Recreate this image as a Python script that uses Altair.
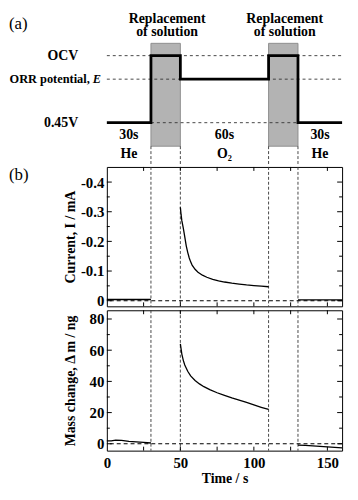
import altair as alt
import pandas as pd

FONT = "Liberation Serif"
W = 238
H_A, H_I, H_M = 154, 141, 142

# ---------------- data ----------------
switch_times = [30, 50, 110, 130]

# (a) schematic potential programme (arbitrary potential units)
level_names = ["OCV", "ORR", "0.45V"]
level_values = [1.0, 0.807, 0.45]
wave_t = [0, 30, 30, 50, 50, 110, 110, 130, 130, 160]
wave_level = ["0.45V", "0.45V", "OCV", "OCV", "ORR", "ORR", "OCV", "OCV", "0.45V", "0.45V"]
dash_level = ["OCV", "ORR", "0.45V"]
dash_start = [0, 0, 30]
dash_end = [160, 160, 130]
box_start = [30, 110]
box_end = [50, 130]
box_low, box_high = 0.257, 1.101
A_DOMAIN = [0.111, 1.360]

phase_x = [15, 80, 145]
phase_dur = ["30s", "60s", "30s"]
phase_gas = ["He", "O\u2082", "He"]
replace_x = [41, 121]
row_repl, row_sol, row_dur, row_gas = 1.303, 1.190, 0.352, 0.190

# (b) current, mA
cur_t_he1 = [0, 30]
cur_he1 = [-0.004, -0.004]
cur_t_o2 = [50, 50.5, 51, 52, 53, 54, 55, 56, 57, 58, 60, 62, 65, 68, 72, 76, 80, 85, 90, 95, 100, 105, 110]
cur_o2 = [-0.315, -0.29, -0.27, -0.245, -0.215, -0.185, -0.163, -0.145, -0.131, -0.120, -0.106, -0.096,
          -0.086, -0.079, -0.072, -0.067, -0.063, -0.059, -0.056, -0.053, -0.051, -0.049, -0.047]
cur_t_he2 = [130, 160]
cur_he2 = [-0.003, -0.003]
cur_major = [-0.4, -0.3, -0.2, -0.1, 0.0]
cur_minor = [-0.35, -0.25, -0.15, -0.05]

# (b) mass change, ng
mass_t_he1 = [0, 3, 6, 10, 15, 20, 25, 30]
mass_he1 = [1.8, 1.9, 2.4, 2.2, 1.6, 1.2, 0.9, 0.5]
mass_t_o2 = [50, 51, 52, 53, 55, 57, 60, 63, 66, 70, 75, 80, 85, 90, 95, 100, 105, 110]
mass_o2 = [64, 57.5, 53.5, 50.5, 46.5, 43.5, 40.6, 38.4, 36.6, 34.7, 32.7, 31, 29.4, 28, 26.5, 24.9, 23.4, 22]
mass_t_he2 = [130, 135, 140, 145, 150, 155, 160]
mass_he2 = [-0.8, -1.0, -1.3, -1.7, -2.0, -2.3, -2.6]
mass_major = [0, 20, 40, 60, 80]
mass_minor = [10, 30, 50, 70]

x_ticks = [25, 50, 75, 100, 125, 150]
x_labels = [0, 50, 100, 150]

# ---------------- helpers ----------------
xs = alt.Scale(domain=[0, 160], nice=False, zero=False)
lvl = dict(zip(level_names, level_values))


def txt(**kw):
    base = dict(font=FONT, fontWeight="bold", fontSize=14, color="black")
    base.update(kw)
    return base


# ---------------- panel (a) ----------------
ya = alt.Scale(domain=A_DOMAIN, nice=False, zero=False)
XA = lambda f: alt.X(f, type="quantitative", scale=xs, axis=None)
YA = lambda f: alt.Y(f, type="quantitative", scale=ya, axis=None)

boxes = pd.DataFrame({"t0": box_start, "t1": box_end, "v0": [box_low] * 2, "v1": [box_high] * 2})
dashes = pd.DataFrame({"t0": dash_start, "t1": dash_end, "v": [lvl[k] for k in dash_level]})
vdash_a = pd.DataFrame({"t": switch_times, "v0": [box_low] * 4, "v1": [A_DOMAIN[0]] * 4})
wave = pd.DataFrame({"i": range(len(wave_t)), "t": wave_t, "v": [lvl[k] for k in wave_level]})
dur_df = pd.DataFrame({"t": phase_x, "v": [row_dur] * 3, "s": phase_dur})
gas_df = pd.DataFrame({"t": phase_x, "v": [row_gas] * 3, "s": phase_gas})
repl_df = pd.DataFrame({"t": replace_x * 2, "v": [row_repl] * 2 + [row_sol] * 2,
                        "s": ["Replacement"] * 2 + ["of solution"] * 2})
left_df = pd.DataFrame({"t": [-19.5, -19.5], "v": [lvl["OCV"], lvl["0.45V"]], "s": ["OCV", "0.45V"]})
orr_df = pd.DataFrame({"t": [-11.6], "v": [lvl["ORR"]], "s": ["ORR potential,"]})
e_df = pd.DataFrame({"t": [-4.03], "v": [lvl["ORR"]], "s": ["E"]})
a_df = pd.DataFrame({"t": [-66.6], "v": [1.262], "s": ["(a)"]})

pa = alt.layer(
    alt.Chart(boxes).mark_rect(fill="#b3b3b3", stroke="#8f8f8f", strokeWidth=1).encode(
        x=XA("t0"), x2="t1", y=YA("v0"), y2="v1"),
    alt.Chart(dashes).mark_rule(color="#333333", strokeWidth=0.9, strokeDash=[3, 3]).encode(
        x=XA("t0"), x2="t1", y=YA("v")),
    alt.Chart(vdash_a).mark_rule(color="#333333", strokeWidth=0.9, strokeDash=[3, 2]).encode(
        x=XA("t"), y=YA("v0"), y2="v1"),
    alt.Chart(wave).mark_line(color="black", strokeWidth=2.8, strokeJoin="miter").encode(
        x=XA("t"), y=YA("v"), order="i:Q"),
    alt.Chart(dur_df).mark_text(**txt(baseline="middle")).encode(x=XA("t"), y=YA("v"), text="s:N"),
    alt.Chart(gas_df).mark_text(**txt(baseline="middle")).encode(x=XA("t"), y=YA("v"), text="s:N"),
    alt.Chart(repl_df).mark_text(**txt(baseline="middle")).encode(x=XA("t"), y=YA("v"), text="s:N"),
    alt.Chart(left_df).mark_text(**txt(baseline="middle", align="right")).encode(
        x=XA("t"), y=YA("v"), text="s:N"),
    alt.Chart(orr_df).mark_text(**txt(baseline="middle", align="right", fontSize=12.5)).encode(
        x=XA("t"), y=YA("v"), text="s:N"),
    alt.Chart(e_df).mark_text(**txt(baseline="middle", align="right", fontSize=12.5, fontStyle="italic")).encode(
        x=XA("t"), y=YA("v"), text="s:N"),
    alt.Chart(a_df).mark_text(font=FONT, fontSize=17, color="black", align="left", baseline="middle").encode(
        x=XA("t"), y=YA("v"), text="s:N"),
).properties(width=W, height=H_A, view=alt.ViewBackground(stroke="transparent"))


# ---------------- generic data panel ----------------
def data_panel(segs, domain, reverse, major, minor, ytitle, label_expr, height, xaxis, extra=None):
    ysc = alt.Scale(domain=domain, nice=False, zero=False, reverse=reverse)
    yax = alt.Axis(values=major, labelExpr=label_expr, ticks=False, domain=False, grid=False,
                   labelPadding=3, minExtent=27, maxExtent=27, title=ytitle, titlePadding=3,
                   labelFlush=False, labelOverlap=False)
    XX = lambda f: alt.X(f, type="quantitative", scale=xs, axis=xaxis)
    YY = lambda f: alt.Y(f, type="quantitative", scale=ysc, axis=yax)

    frames = []
    for k, (tt, vv) in enumerate(segs):
        frames.append(pd.DataFrame({"t": tt, "v": vv, "seg": k}))
    curve = pd.concat(frames, ignore_index=True)

    vd = pd.DataFrame({"t": switch_times})
    zero = pd.DataFrame({"z": [0.0]})
    xt = pd.DataFrame({"t": x_ticks})
    ymaj = pd.DataFrame({"v": major})
    ymin = pd.DataFrame({"v": minor})
    tick = dict(color="black", strokeWidth=1)

    layers = [
        alt.Chart(vd).mark_rule(color="#333333", strokeWidth=0.9, strokeDash=[3, 2]).encode(x=XX("t")),
        alt.Chart(zero).mark_rule(color="black", strokeWidth=1.1, strokeDash=[4, 3]).encode(y=YY("z")),
        alt.Chart(curve).mark_line(color="black", strokeWidth=1.3).encode(
            x=XX("t"), y=YY("v"), detail="seg:N"),
        alt.Chart(xt).mark_rule(**tick).encode(x=XX("t"), y=alt.value(0), y2=alt.value(4)),
        alt.Chart(xt).mark_rule(**tick).encode(x=XX("t"), y=alt.value(height - 4), y2=alt.value(height)),
        alt.Chart(ymaj).mark_rule(**tick).encode(y=YY("v"), x=alt.value(0), x2=alt.value(5)),
        alt.Chart(ymaj).mark_rule(**tick).encode(y=YY("v"), x=alt.value(W - 5), x2=alt.value(W)),
        alt.Chart(ymin).mark_rule(**tick).encode(y=YY("v"), x=alt.value(0), x2=alt.value(3)),
        alt.Chart(ymin).mark_rule(**tick).encode(y=YY("v"), x=alt.value(W - 3), x2=alt.value(W)),
    ]
    if extra is not None:
        layers.append(
            alt.Chart(extra).mark_text(font=FONT, fontSize=17, color="black", align="left",
                                       baseline="middle").encode(x=XX("t"), y=YY("v"), text="s:N"))
    return alt.layer(*layers).properties(width=W, height=height)


b_df = pd.DataFrame({"t": [-66.6], "v": [-0.424], "s": ["(b)"]})

p_cur = data_panel(
    [(cur_t_he1, cur_he1), (cur_t_o2, cur_o2), (cur_t_he2, cur_he2)],
    [-0.451, 0.019], True, cur_major, cur_minor, "Current, I / mA",
    "datum.value == 0 ? '0' : '-' + format(abs(datum.value), '.1f')", H_I, None, extra=b_df)

x_axis_m = alt.Axis(values=x_labels, ticks=False, domain=False, grid=False, labelPadding=5,
                    title="Time / s", titlePadding=1, labelFlush=False, labelOverlap=False)
p_mass = data_panel(
    [(mass_t_he1, mass_he1), (mass_t_o2, mass_o2), (mass_t_he2, mass_he2)],
    [-4.4, 85.6], False, mass_major, mass_minor, "Mass change, \u0394 m / ng",
    "format(datum.value, 'd')", H_M, x_axis_m)

chart = alt.vconcat(pa, p_cur, p_mass, spacing=0).properties(
    padding={"left": 0, "top": 0, "right": 1, "bottom": 0}
).configure_view(stroke="black", strokeWidth=1).configure_axis(
    labelFont=FONT, titleFont=FONT, labelFontWeight="bold", titleFontWeight="bold",
    labelFontSize=15, titleFontSize=14, labelColor="black", titleColor="black"
)

chart.save("out.html", embed_options={"renderer": "svg", "actions": False})
